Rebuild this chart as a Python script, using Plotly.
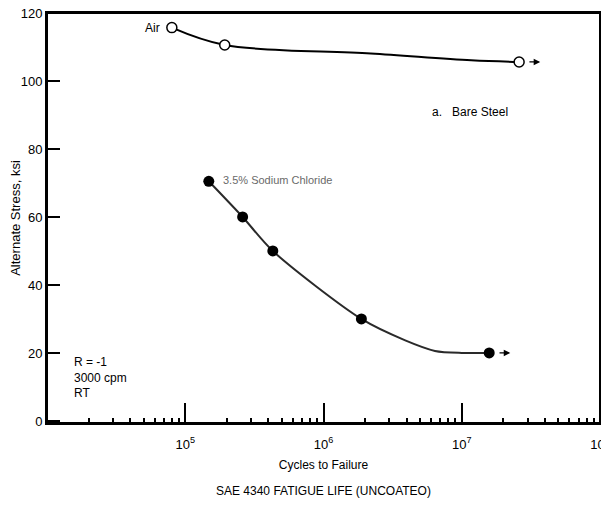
import math
import plotly.graph_objects as go

# ---- data ----
air_cycles = [8.0e4, 1.93e5, 2.6e7]
air_stress = [115.7, 110.6, 105.6]
# faired curve through the air data, as drawn in the reference
air_curve_cycles = [8.0e4, 1.93e5, 2.2e6, 1.17e7, 2.6e7]
air_curve_stress = [115.7, 110.6, 108.1, 106.1, 105.6]

nacl_cycles = [1.48e5, 2.6e5, 4.3e5, 1.88e6, 1.58e7]
nacl_stress = [70.5, 60, 50, 30, 20]
# faired curve through the sodium chloride data, as drawn in the reference
nacl_curve_cycles = [1.48e5, 2.6e5, 4.3e5, 1.88e6, 3.9e6, 6.4e6, 1.0e7, 1.58e7]
nacl_curve_stress = [70.5, 60, 50, 30, 23.7, 20.6, 20.0, 20.0]

y_ticks = [0, 20, 40, 60, 80, 100, 120]
x_major = [1e4, 1e5, 1e6, 1e7, 1e8]
x_major_text = [" ", "10<sup>5</sup>", "10<sup>6</sup>", "10<sup>7</sup>", "10<sup>8</sup>"]

FONT = "Liberation Sans, Arial, sans-serif"

x_minor = [k * 10 ** d for d in range(4, 8) for k in range(2, 10)]

fig = go.Figure()

fig.add_trace(go.Scatter(
    x=air_curve_cycles, y=air_curve_stress, mode="lines",
    line=dict(color="black", width=2, shape="spline", smoothing=1.0),
    showlegend=False, hoverinfo="skip"))
fig.add_trace(go.Scatter(
    x=air_cycles, y=air_stress, mode="markers",
    marker=dict(symbol="circle", size=10, color="white",
                line=dict(color="black", width=1.5)),
    showlegend=False, hoverinfo="skip"))

fig.add_trace(go.Scatter(
    x=nacl_curve_cycles, y=nacl_curve_stress, mode="lines",
    line=dict(color="#2a2a2a", width=2, shape="spline", smoothing=0.8),
    showlegend=False, hoverinfo="skip"))
fig.add_trace(go.Scatter(
    x=nacl_cycles, y=nacl_stress, mode="markers",
    marker=dict(symbol="circle", size=11, color="black"),
    showlegend=False, hoverinfo="skip"))

anns = []
# run-out arrows
for xs, ys in [(air_cycles, air_stress), (nacl_cycles, nacl_stress)]:
    anns.append(dict(x=math.log10(xs[-1] * 1.42), y=ys[-1],
                     ax=math.log10(xs[-1] * 1.12), ay=ys[-1],
                     xref="x", yref="y", axref="x", ayref="y",
                     showarrow=True, arrowhead=2, arrowsize=1, arrowwidth=1.3,
                     arrowcolor="black", text=" "))

anns += [
    dict(x=math.log10(air_cycles[0] * 0.85), y=air_stress[0], text="Air",
         xanchor="right", yanchor="middle", showarrow=False,
         font=dict(size=12, color="black", family=FONT)),
    dict(x=math.log10(nacl_cycles[0] * 1.22), y=nacl_stress[0] + 0.3,
         text="3.5% Sodium Chloride", xanchor="left", yanchor="middle",
         showarrow=False, font=dict(size=11, color="#6a6a6a", family=FONT)),
    dict(x=0.693, y=0.759, xref="paper", yref="paper", text="a.&nbsp;&nbsp;&nbsp;Bare Steel",
         xanchor="left", yanchor="middle", showarrow=False,
         font=dict(size=12, color="black", family=FONT)),
    dict(x=0.045, y=0.11, xref="paper", yref="paper",
         text="R = -1<br>3000 cpm<br>RT", align="left",
         xanchor="left", yanchor="middle", showarrow=False,
         font=dict(size=12, color="black", family=FONT)),
    dict(x=0.5, y=-0.167, xref="paper", yref="paper", text="SAE 4340 FATIGUE LIFE (UNCOATEO)",
         xanchor="center", yanchor="middle", showarrow=False,
         font=dict(size=12, color="black", family=FONT)),
]

fig.update_layout(
    width=601, height=494,
    margin=dict(l=39, r=9, t=5, b=79),
    paper_bgcolor="white", plot_bgcolor="white",
    font=dict(family=FONT, color="black", size=13),
    annotations=anns,
    shapes=[dict(type="rect", xref="paper", yref="paper", x0=0, x1=1, y0=0, y1=1,
                 line=dict(color="black", width=2), layer="above")],
    xaxis=dict(
        type="log", range=[4, 8], automargin=False,
        showline=True, linecolor="black", linewidth=2, mirror=True,
        showgrid=False, zeroline=False,
        tickmode="array", tickvals=x_major, ticktext=x_major_text,
        ticks="inside", ticklen=20, tickwidth=1.5, tickcolor="black",
        ticklabelstandoff=8, ticklabeloverflow="allow",
        tickfont=dict(size=13, family=FONT),
        minor=dict(tickmode="array", tickvals=x_minor, ticks="inside",
                   ticklen=5, tickwidth=1.5, tickcolor="black", showgrid=False),
        title=dict(text="Cycles to Failure", font=dict(size=12, family=FONT), standoff=10),
    ),
    yaxis=dict(
        range=[-0.6, 120], automargin=False,
        showline=True, linecolor="black", linewidth=2, mirror=True,
        showgrid=False, zeroline=False,
        tickmode="array", tickvals=y_ticks, ticklabeloverflow="allow",
        ticks="inside", ticklen=13, tickwidth=1.5, tickcolor="black",
        tickfont=dict(size=13, family=FONT),
        title=dict(text="Alternate Stress, ksi", font=dict(size=13, family=FONT), standoff=6),
    ),
)

fig.write_html("out.html")
